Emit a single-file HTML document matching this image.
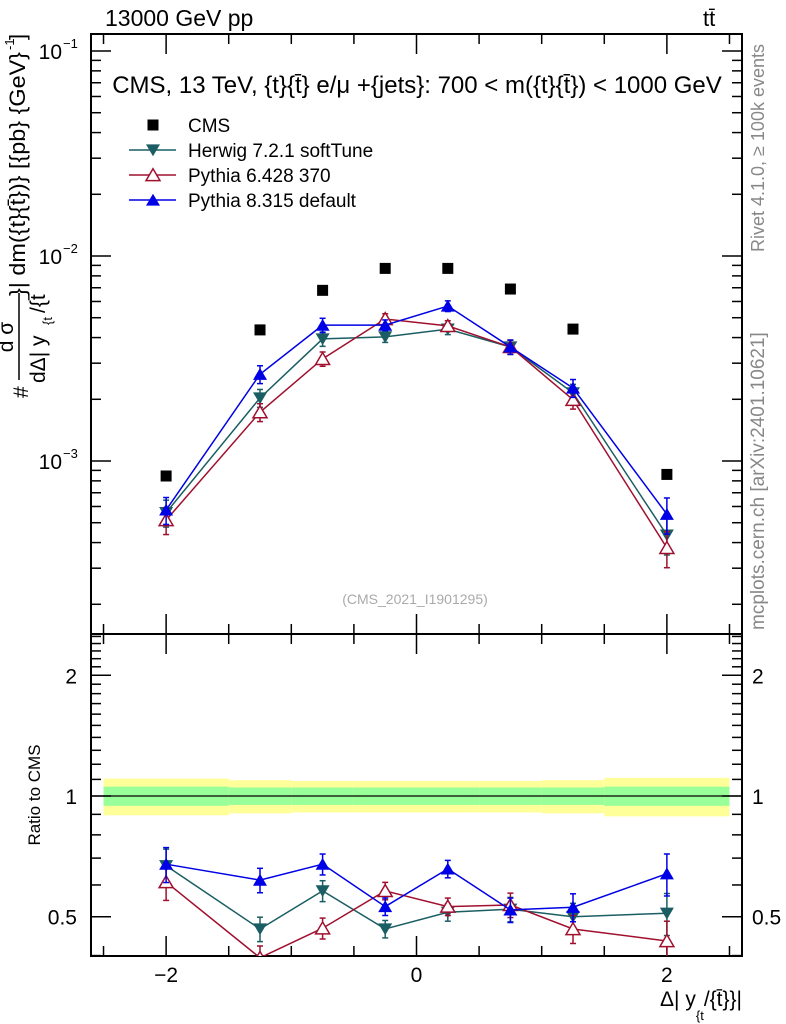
<!DOCTYPE html>
<html><head><meta charset="utf-8">
<style>
html,body{margin:0;padding:0;background:#fff;}
svg{display:block;font-family:"Liberation Sans",sans-serif;}
</style></head>
<body>
<svg id="c" width="786" height="1024" viewBox="0 0 786 1024">
<text x="105" y="26" font-size="23">13000 GeV pp</text>
<text x="703" y="26" font-size="22">tt̄</text>
<text x="417" y="93" font-size="24" text-anchor="middle">CMS, 13 TeV, {t}{t̄} e/μ +{jets}: 700 &lt; m({t}{t̄}) &lt; 1000 GeV</text>
<text x="415" y="604" font-size="14" fill="#aaa" text-anchor="middle">(CMS_2021_I1901295)</text>
<text transform="translate(764,252) rotate(-90)" font-size="18" fill="#888">Rivet 4.1.0, ≥ 100k events</text>
<text transform="translate(764,630) rotate(-90)" font-size="19" fill="#888">mcplots.cern.ch [arXiv:2401.10621]</text>
<g>
<text transform="translate(28,398) rotate(-90)" font-size="21">#</text>
<text transform="translate(13,337) rotate(-90)" font-size="21" text-anchor="middle">d σ</text>
<line x1="19" y1="293" x2="19" y2="380" stroke="#000" stroke-width="1.5"/>
<text transform="translate(45,383) rotate(-90)" font-size="21">dΔ| y</text>
<text transform="translate(52,325) rotate(-90)" font-size="13">{t</text>
<text transform="translate(45,313) rotate(-90)" font-size="21">/{t̄</text>
<text transform="translate(25,296) rotate(-90)" font-size="22" textLength="244" lengthAdjust="spacingAndGlyphs">}| dm({t}{t̄})} [{pb} {GeV}</text>
<text transform="translate(14,50) rotate(-90)" font-size="13">-1</text>
<text transform="translate(25,40) rotate(-90)" font-size="22">]</text>
</g>
<text transform="translate(40,795) rotate(-90)" font-size="17" text-anchor="middle">Ratio to CMS</text>
<text x="742" y="1006" font-size="21" text-anchor="end">Δ| y<tspan font-size="13" dy="14">{t</tspan><tspan dy="-14">/{t̄}}|</tspan></text>
</svg>
<script>
const categories=[-2,-1.25,-0.75,-0.25,0.25,0.75,1.25,2];
const binLo=[-2.5,-1.5,-1,-0.5,0,0.5,1,1.5];
const binHi=[-1.5,-1,-0.5,0,0.5,1,1.5,2.5];
const cmsVals=[8.45e-4,4.36e-3,6.8e-3,8.7e-3,8.7e-3,6.9e-3,4.4e-3,8.6e-4];
const herwigVals=[5.6e-4,2.03e-3,3.94e-3,4.03e-3,4.4e-3,3.6e-3,2.15e-3,4.35e-4];
const py6Vals=[5.15e-4,1.73e-3,3.15e-3,4.93e-3,4.56e-3,3.6e-3,1.99e-3,3.77e-4];
const py8Vals=[5.77e-4,2.65e-3,4.6e-3,4.6e-3,5.7e-3,3.6e-3,2.27e-3,5.5e-4];
const mainRelErr=[0.15,0.1,0.08,0.06,0.06,0.08,0.1,0.2];
const herwigRatio=[0.67,0.466,0.58,0.466,0.513,0.522,0.5,0.51];
const py6Ratio=[0.61,0.395,0.468,0.58,0.53,0.535,0.466,0.435];
const py8Ratio=[0.676,0.617,0.676,0.53,0.658,0.52,0.528,0.64];
const ratioErr=[0.1,0.07,0.06,0.05,0.05,0.07,0.08,0.12];
const bandInner=[0.055,0.05,0.05,0.05,0.05,0.05,0.05,0.055];
const bandOuter=[0.105,0.095,0.09,0.09,0.09,0.09,0.095,0.11];
const xTicks=[-2,0,2];
const xTickLabels=["\u22122","0","2"];
const mainYTicks=[1e-3,1e-2,1e-1];
const mainYTickLabels=["10","10","10"];
const mainYExp=["\u22123","\u22122","\u22121"];
const ratioTicks=[0.5,1,2];
const ratioTickLabels=["0.5","1","2"];

const NS="http://www.w3.org/2000/svg";
const svg=document.getElementById('c');
const L=91,R=742,T=34,MB=634,RB=956;
const xs=v=>L+(v+2.6)/5.2*(R-L);
const yMain=v=>461-(Math.log10(v)+3)*205;
const yRat=v=>796-Math.log10(v)*401;
function el(tag,at,parent){const e=document.createElementNS(NS,tag);for(const k in at)e.setAttribute(k,at[k]);(parent||svg).appendChild(e);return e;}

const defs=el('defs',{});
const c1=el('clipPath',{id:'cm'},defs);el('rect',{x:L,y:T,width:R-L,height:MB-T},c1);
const c2=el('clipPath',{id:'cr'},defs);el('rect',{x:L,y:MB,width:R-L,height:RB-MB},c2);

const gb=el('g',{'clip-path':'url(#cr)'});


for(let i=0;i<categories.length;i++){
  const x1=xs(binLo[i]),x2=xs(binHi[i]);
  el('rect',{x:x1,y:yRat(1+bandOuter[i]),width:x2-x1,height:yRat(1-bandOuter[i])-yRat(1+bandOuter[i]),fill:'#ffff99'},gb);
  el('rect',{x:x1,y:yRat(1+bandInner[i]),width:x2-x1,height:yRat(1-bandInner[i])-yRat(1+bandInner[i]),fill:'#99ff99'},gb);
}
const ln1=el('line',{x1:L,x2:R,y1:yRat(1),y2:yRat(1),stroke:'#000','stroke-width':1.3});



for(const [y1,y2,nm] of [[T,MB,'main-frame'],[MB,RB,'ratio-frame']]){
  const r=el('rect',{x:L,y:y1,width:R-L,height:y2-y1,fill:'none',stroke:'#000','stroke-width':2});
  
  
}

const gx=el('g',{stroke:'#000','stroke-width':1.5});


for(let v=-2.5;v<=2.51;v+=0.5){
  const major=xTicks.includes(Math.round(v*10)/10);
  const len=major?20:10;
  for(const yb of [MB,RB]) el('line',{x1:xs(v),x2:xs(v),y1:yb,y2:yb-len},gx);
  for(const yt of [T,MB]) el('line',{x1:xs(v),x2:xs(v),y1:yt,y2:yt+len},gx);
}
xTicks.forEach((v,i)=>{
  const t=el('text',{x:xs(v),y:982,'font-size':21,'text-anchor':'middle'});
  t.textContent=xTickLabels[i];
  
  
});

const gy=el('g',{stroke:'#000','stroke-width':1.5});


for(let d=-4;d<=-1;d++){
  for(let m=1;m<10;m++){
    const v=m*Math.pow(10,d),y=yMain(v);
    if(y<T||y>MB)continue;
    const len=m===1?20:10;
    el('line',{x1:L,x2:L+len,y1:y,y2:y},gy);
    el('line',{x1:R,x2:R-len,y1:y,y2:y},gy);
  }
}
mainYTicks.forEach((v,i)=>{
  const t=el('text',{x:62,y:yMain(v)+8,'font-size':21,'text-anchor':'end'});
  t.textContent=mainYTickLabels[i];
  
  
  const e=el('text',{x:63,y:yMain(v)-3,'font-size':13});
  e.textContent=mainYExp[i];
  
  
});

const gr=el('g',{stroke:'#000','stroke-width':1.5});


for(let v=0.4;v<=2.55;v+=0.1){
  const vv=Math.round(v*10)/10,y=yRat(vv);
  if(y<MB||y>RB)continue;
  const major=ratioTicks.includes(vv);
  const len=major?20:10;
  el('line',{x1:L,x2:L+len,y1:y,y2:y},gr);
  el('line',{x1:R,x2:R-len,y1:y,y2:y},gr);
}
ratioTicks.forEach((v,i)=>{
  for(const [x,a] of [[77,'end'],[752,'start']]){
    const t=el('text',{x:x,y:yRat(v)+8,'font-size':21,'text-anchor':a});
    t.textContent=ratioTickLabels[i];
    
    
  }
});

function marker(g,type,x,y,col){
  const s=7;
  if(type==='sq') el('rect',{x:x-5.5,y:y-5.5,width:11,height:11,fill:'#000'},g);
  else if(type==='down') el('polygon',{points:`${x-s},${y-s*0.8} ${x+s},${y-s*0.8} ${x},${y+s*0.9}`,fill:col},g);
  else if(type==='up') el('polygon',{points:`${x-s},${y+s*0.8} ${x+s},${y+s*0.8} ${x},${y-s*0.9}`,fill:col},g);
  else el('polygon',{points:`${x-s},${y+s*0.8} ${x+s},${y+s*0.8} ${x},${y-s*0.9}`,fill:'#fff',stroke:col,'stroke-width':1.5},g);
}
function series(vals,err,ys,clip,col,type,name,line){
  const g=el('g',{'clip-path':clip});
  
  
  if(line){
    const pts=categories.map((c,i)=>xs(c)+','+ys(vals[i])).join(' ');
    el('polyline',{points:pts,fill:'none',stroke:col,'stroke-width':1.5},g);
  }
  categories.forEach((c,i)=>{
    const x=xs(c),y1=ys(vals[i]*(1+err[i])),y2=ys(vals[i]*(1-err[i]));
    if(type!=='sq'){
      el('line',{x1:x,x2:x,y1:y1,y2:y2,stroke:col,'stroke-width':1.5},g);
      el('line',{x1:x-3,x2:x+3,y1:y1,y2:y1,stroke:col,'stroke-width':1.5},g);
      el('line',{x1:x-3,x2:x+3,y1:y2,y2:y2,stroke:col,'stroke-width':1.5},g);
    }
    marker(g,type,x,ys(vals[i]),col);
  });
}
const HC='#1a5e63',P6C='#a0102e',P8C='#0000e6';
series(cmsVals,mainRelErr.map(e=>0.03),yMain,'url(#cm)','#000','sq','cms-data',false);
series(herwigVals,mainRelErr,yMain,'url(#cm)',HC,'down','herwig-series',true);
series(py6Vals,mainRelErr,yMain,'url(#cm)',P6C,'open','pythia6-series',true);
series(py8Vals,mainRelErr,yMain,'url(#cm)',P8C,'up','pythia8-series',true);
series(herwigRatio,ratioErr,yRat,'url(#cr)',HC,'down','herwig-ratio',true);
series(py6Ratio,ratioErr,yRat,'url(#cr)',P6C,'open','pythia6-ratio',true);
series(py8Ratio,ratioErr,yRat,'url(#cr)',P8C,'up','pythia8-ratio',true);

const leg=[['CMS','#000','sq'],['Herwig 7.2.1 softTune',HC,'down'],['Pythia 6.428 370',P6C,'open'],['Pythia 8.315 default',P8C,'up']];
leg.forEach((l,i)=>{
  const y=125+i*25;
  const g=el('g',{});
  
  
  if(l[2]!=='sq') el('line',{x1:129,x2:176,y1:y,y2:y,stroke:l[1],'stroke-width':1.5},g);
  marker(g,l[2],153,y,l[1]);
  const t=el('text',{x:188,y:y+7,'font-size':19},g);
  t.textContent=l[0];
});
</script>
</body></html>
